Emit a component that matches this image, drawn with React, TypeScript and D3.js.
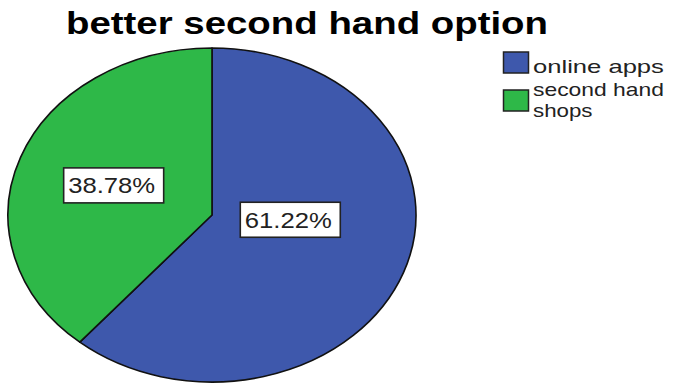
import React from "react";
import * as d3 from "d3";

const categories = ["online apps", "second hand shops"];
const values = [61.22, 38.78];
const valueLabels = ["61.22%", "38.78%"];
const colors = ["#3E58AC", "#2EB848"];
const legendLines = [["online apps"], ["second hand", "shops"]];
const title = "better second hand option";

const W = 687;
const H = 383;
const cx = 212;
const cy = 215;
const rx = 204;
const ry = 167;
const R = 100;
const FONT = "'Liberation Sans', Arial, Helvetica, sans-serif";

export default function App() {
  const pie = d3.pie<number>().sort(null).value((d) => d);
  const arcs = pie(values);
  const arc = d3.arc<d3.PieArcDatum<number>>().innerRadius(0).outerRadius(R);
  const sx = rx / R;
  const sy = ry / R;

  const labelPos = (a: d3.PieArcDatum<number>, i: number) => {
    const theta = a.endAngle - a.startAngle;
    const mid = (a.startAngle + a.endAngle) / 2;
    const f = (4 * Math.sin(theta / 2)) / (3 * theta);
    let x = cx + rx * f * Math.sin(mid);
    let y = cy - ry * f * Math.cos(mid);
    if (i === 0) {
      x += 16;
      y -= 14;
    }
    return [x, y];
  };

  return (
    <svg
      width={W}
      height={H}
      style={{ position: "absolute", left: 0, top: 0, background: "#fff" }}
      fontFamily={FONT}
    >
      <text
        x={66}
        y={34}
        fontSize={32}
        fontWeight="bold"
        textLength={482}
        lengthAdjust="spacingAndGlyphs"
        fill="#000"
      >
        {title}
      </text>

      <g transform={`translate(${cx},${cy}) scale(${sx},${sy})`}>
        {arcs.map((a, i) => (
          <path
            key={categories[i]}
            d={arc(a) || ""}
            fill={colors[i]}
            stroke="#111"
            strokeWidth={1.6}
            vectorEffect="non-scaling-stroke"
            strokeLinejoin="round"
          />
        ))}
      </g>

      {arcs.map((a, i) => {
        const [x, y] = labelPos(a, i);
        const bw = 100;
        const bh = 35;
        return (
          <g key={"lbl" + i}>
            <rect
              x={x - bw / 2}
              y={y - bh / 2}
              width={bw}
              height={bh}
              fill="#fff"
              stroke="#222"
              strokeWidth={1.6}
            />
            <text
              x={x - 2}
              y={y + 8}
              fontSize={22}
              textAnchor="middle"
              textLength={87}
              lengthAdjust="spacingAndGlyphs"
              fill="#222"
            >
              {valueLabels[i]}
            </text>
          </g>
        );
      })}

      {categories.map((c, i) => {
        const top = 52 + i * 38;
        return (
          <g key={"leg" + c}>
            <rect
              x={503.5}
              y={top}
              width={25}
              height={21}
              fill={colors[i]}
              stroke="#222"
              strokeWidth={1.5}
            />
            {legendLines[i].map((ln, j) => (
              <text
                key={ln}
                x={533}
                y={top + 21 + j * 21 - (i === 1 ? 15 : 0)}
                fontSize={19}
                textLength={ln.length * 11.9}
                lengthAdjust="spacingAndGlyphs"
                fill="#222"
              >
                {ln}
              </text>
            ))}
          </g>
        );
      })}
    </svg>
  );
}
